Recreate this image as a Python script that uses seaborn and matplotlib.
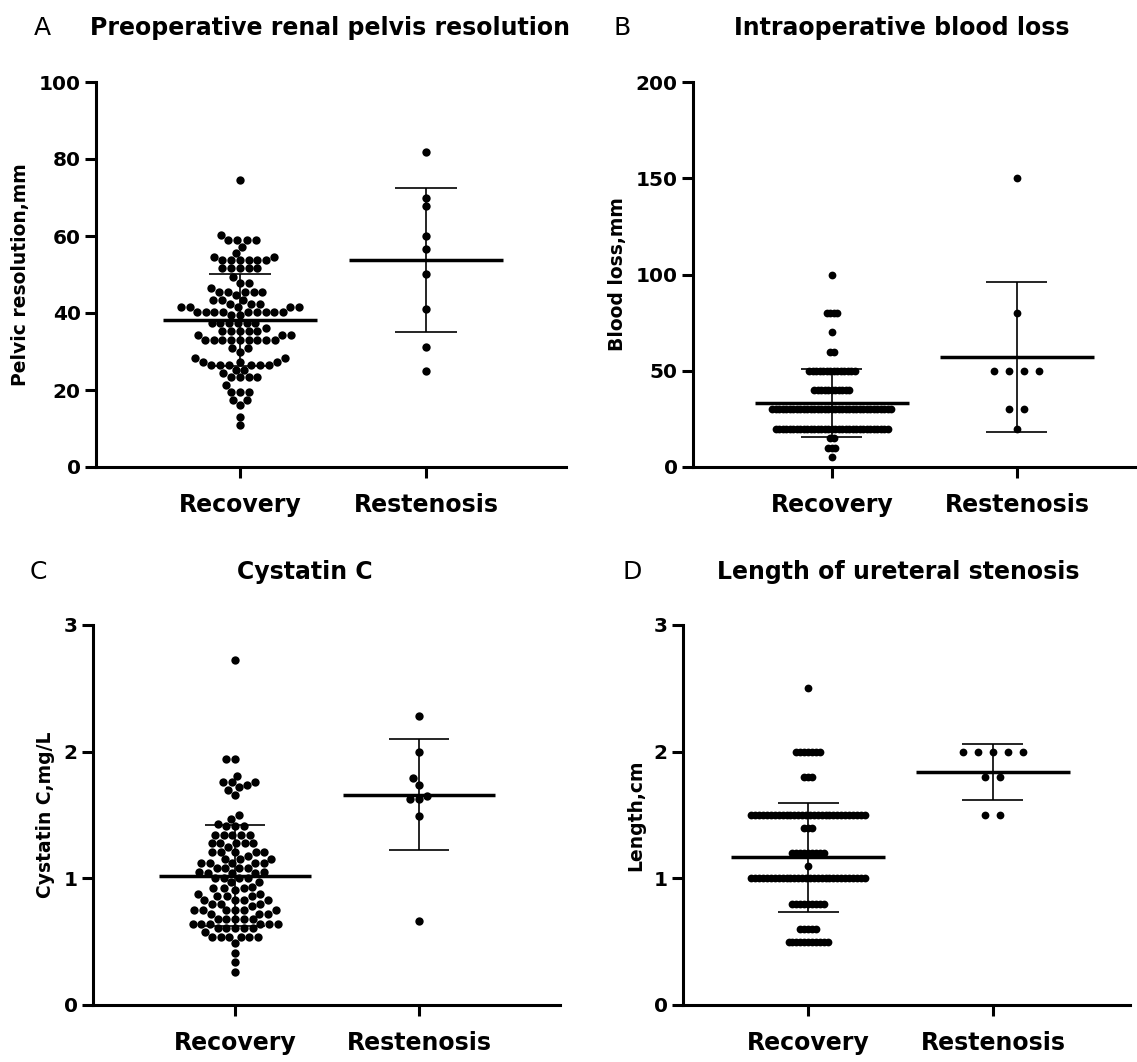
import numpy as np
import pandas as pd
import matplotlib
matplotlib.use("Agg")
import matplotlib.pyplot as plt
import seaborn as sns

sns.set_style("ticks")
plt.rcParams["font.family"] = ["DejaVu Sans"]
plt.rcParams.update({"text.color": "black", "axes.labelcolor": "black",
                     "xtick.color": "black", "ytick.color": "black",
                     "axes.edgecolor": "black"})

# ---- data ----
groups = ["Recovery", "Restenosis"]

# A - preoperative renal pelvis resolution (mm)
pelvis_rec = ([74.5, 60.3] + [59.0] * 4 + [57.2, 55.7] + [54.6] * 2 + [53.8] * 6 + [51.6] * 5
              + [49.3] + [47.9] * 2 + [46.6] + [45.5] * 5 + [44.7] + [43.4] * 3 + [42.3] * 3
              + [41.6] * 5 + [40.3] * 9 + [39.5] * 2 + [37.3] * 6 + [36.0] + [35.2] * 5
              + [34.3] * 3 + [33.0] * 9 + [30.8] * 2 + [30.0] + [28.2] * 2 + [27.4] * 3
              + [26.5] * 6 + [25.2] * 2 + [24.3] + [23.3] * 4 + [21.3] + [19.6] * 3
              + [17.4] * 2 + [16.1, 13.1, 10.9])
pelvis_res = [81.7, 70.0, 67.8, 60.0, 56.5, 50.1, 41.1, 31.2, 25.0]
pelvis_mean = [38.2, 53.8]
pelvis_sd = [12.0, 18.7]

# B - intraoperative blood loss
blood_rec = ([100] + [80] * 4 + [70] + [60] * 2 + [50] * 14 + [40] * 11 + [30] * 35
             + [20] * 33 + [15] * 2 + [10] * 3 + [5])
blood_res = [150, 80, 50, 50, 50, 50, 30, 30, 20]
blood_mean = [33.2, 57.0]
blood_sd = [17.5, 39.0]

# C - cystatin C (mg/L)
cys_rec = ([2.72] + [1.94] * 2 + [1.81] + [1.76] * 3 + [1.74, 1.72, 1.70, 1.66, 1.50, 1.47, 1.43]
           + [1.41] * 3 + [1.34] * 5 + [1.28] * 5 + [1.25] + [1.21] * 5 + [1.18] + [1.15] * 3
           + [1.12] * 5 + [1.08] * 4 + [1.05] * 2 + [1.04] * 3 + [1.00] * 4 + [0.97] * 2
           + [0.93] + [0.92] * 3 + [0.91] + [0.88] * 2 + [0.86] * 3 + [0.83] * 4 + [0.80] * 3
           + [0.78] + [0.75] * 6 + [0.72] * 3 + [0.68] * 5 + [0.64] * 6 + [0.61] * 5 + [0.58]
           + [0.54] * 6 + [0.49, 0.41, 0.34, 0.26])
cys_res = [2.28, 2.00, 1.79, 1.74, 1.65, 1.63, 1.63, 1.49, 0.66]
cys_mean = [1.02, 1.66]
cys_sd = [0.40, 0.44]

# D - length of ureteral stenosis (cm)
len_rec = ([2.5] + [2.0] * 7 + [1.8] * 3 + [1.5] * 30 + [1.4] * 3 + [1.2] * 9 + [1.1]
           + [1.0] * 30 + [0.8] * 9 + [0.6] * 5 + [0.5] * 11)
len_res = [2.0] * 5 + [1.8] * 2 + [1.5] * 2
len_mean = [1.165, 1.84]
len_sd = [0.43, 0.22]

W, H = 1137, 1062
fig = plt.figure(figsize=(W / 100, H / 100), dpi=100)


def make_ax(left, top, right, bottom):
    return fig.add_axes([left / W, 1 - bottom / H, (right - left) / W, (bottom - top) / H])


def spread_rows(ax, steps):
    # GraphPad style: points with equal value side by side in one row
    for coll, step in zip(ax.collections, steps):
        xy = np.array(coll.get_offsets())
        for v in np.unique(xy[:, 1]):
            idx = np.where(xy[:, 1] == v)[0]
            xy[idx, 0] = xy[idx, 0] + (np.arange(len(idx)) - (len(idx) - 1) / 2) * step
        coll.set_offsets(xy)


def panel(ax, rec, res, means, sds, ymax, yticks, ylabel, xlim, dense=None):
    df = pd.DataFrame({"group": ["Recovery"] * len(rec) + ["Restenosis"] * len(res),
                       "value": rec + res})
    if dense is None:
        sns.swarmplot(data=df, x="group", y="value", order=groups, color="black",
                      size=6.0, linewidth=0, ax=ax)
    else:
        sns.stripplot(data=df, x="group", y="value", order=groups, color="black",
                      jitter=False, size=5.6, linewidth=0, ax=ax)
        spread_rows(ax, dense)
    for i, (m, s) in enumerate(zip(means, sds)):
        ax.hlines(m, i - 0.415, i + 0.415, color="black", lw=2.5, zorder=5)
        ax.vlines(i, m - s, m + s, color="black", lw=1.2, zorder=5)
        ax.hlines([m - s, m + s], i - 0.165, i + 0.165, color="black", lw=1.2, zorder=5)
    ax.set_ylim(0, ymax)
    ax.set_xlim(*xlim)
    ax.set_yticks(yticks)
    ax.set_xlabel("")
    ax.set_ylabel(ylabel, fontsize=13.5, fontweight="bold", labelpad=6)
    for sp in ["top", "right"]:
        ax.spines[sp].set_visible(False)
    for sp in ["left", "bottom"]:
        ax.spines[sp].set_linewidth(2.2)
    ax.tick_params(axis="both", width=2.2, length=8, pad=3)
    ax.tick_params(axis="y", labelsize=14.5)
    ax.tick_params(axis="x", labelsize=17, pad=11)
    for lab in ax.get_xticklabels() + ax.get_yticklabels():
        lab.set_fontweight("bold")
    for c in ax.collections:
        c.set_clip_on(False)


ax_a = make_ax(96, 82, 566, 467)
panel(ax_a, pelvis_rec, pelvis_res, pelvis_mean, pelvis_sd, 100, [0, 20, 40, 60, 80, 100],
      "Pelvic resolution,mm", (-0.774, 1.753))

ax_b = make_ax(693, 82, 1135, 467)
panel(ax_b, blood_rec, blood_res, blood_mean, blood_sd, 200, [0, 50, 100, 150, 200],
      "Blood loss,mm", (-0.751, 1.638), dense=[3.5 / 185, 15 / 185])

ax_c = make_ax(93, 625, 560, 1005)
panel(ax_c, cys_rec, cys_res, cys_mean, cys_sd, 3, [0, 1, 2, 3],
      "Cystatin C,mg/L", (-0.772, 1.766))

ax_d = make_ax(683, 625, 1130, 1005)
panel(ax_d, len_rec, len_res, len_mean, len_sd, 3, [0, 1, 2, 3],
      "Length,cm", (-0.676, 1.741), dense=[3.9 / 185, 15 / 185])


def fig_text(x, y, s, **kw):
    fig.text(x / W, 1 - y / H, s, ha="center", va="center", **kw)


fig_text(42, 28, "A", fontsize=18)
fig_text(330, 28, "Preoperative renal pelvis resolution", fontsize=17, fontweight="bold")
fig_text(622, 28, "B", fontsize=18)
fig_text(902, 28, "Intraoperative blood loss", fontsize=17, fontweight="bold")
fig_text(38, 572, "C", fontsize=18)
fig_text(305, 572, "Cystatin C", fontsize=17, fontweight="bold")
fig_text(632, 572, "D", fontsize=18)
fig_text(898, 572, "Length of ureteral stenosis", fontsize=17, fontweight="bold")

fig.savefig("out.png", dpi=100, facecolor="white")
